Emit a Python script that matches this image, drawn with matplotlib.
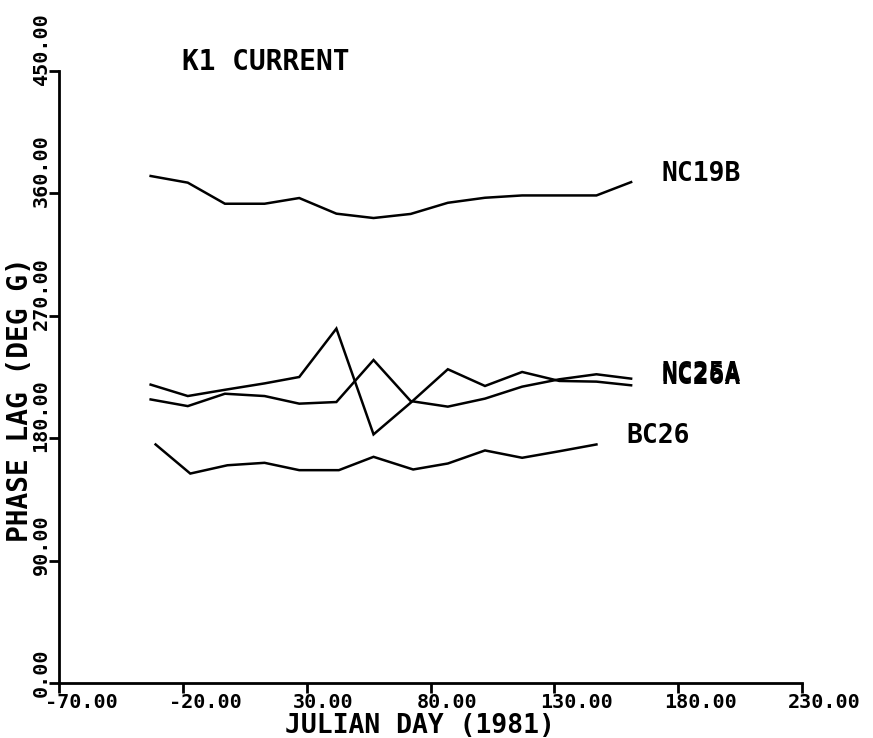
import matplotlib
matplotlib.use("Agg")
import matplotlib.pyplot as plt
import matplotlib.transforms as mtransforms

# Julian day of each observation (1981)
days = [-33, -18, -3, 13, 27, 42, 57, 72, 87, 102, 117, 132, 147, 161]

# K1 current phase lag (deg G) per mooring
nc19b = [372.8, 367.9, 352.4, 352.4, 356.6, 345.1, 341.9, 344.9, 353.1, 356.8, 358.5, 358.5, 358.5, 368.3]
nc25a = [208.5, 203.6, 212.7, 211.0, 205.4, 206.6, 237.5, 207.3, 203.2, 209.1, 217.9, 223.3, 227.0, 223.8]
nc26a = [219.4, 211.0, 215.6, 220.3, 225.0, 260.6, 182.8, 206.1, 230.7, 218.4, 228.7, 222.1, 221.6, 218.9]
bc26_days = [-31, -17, -2, 13, 27, 43, 57, 73, 87, 102, 117, 132, 147]
bc26 = [175.4, 154.0, 160.1, 161.9, 156.5, 156.5, 166.3, 157.0, 161.4, 171.0, 165.6, 170.4, 175.4]

series = [("NC19B", days, nc19b), ("NC25A", days, nc25a),
          ("NC26A", days, nc26a), ("BC26", bc26_days, bc26)]

xticks = [-70, -20, 30, 80, 130, 180, 230]
yticks = [0, 90, 180, 270, 360, 450]

font = "DejaVu Sans Mono"
wt = "bold"

fig = plt.figure(figsize=(8.73, 7.38), dpi=100)
ax = fig.add_axes([59 / 873, 55 / 738, 743 / 873, 612 / 738])

# label lift above the line end (inches); NC25A/NC26A labels print on top of each other
lift = {"NC19B": 0.08, "NC25A": 0.045, "NC26A": 0.08, "BC26": 0.08}
for name, xs, ys in series:
    ax.plot(xs, ys, color="black", lw=1.8, solid_joinstyle="miter")
    off = mtransforms.ScaledTranslation(0.30, lift[name], fig.dpi_scale_trans)
    ax.text(xs[-1], ys[-1], name, transform=ax.transData + off,
            ha="left", va="center", fontsize=19, family=font, weight=wt)

ax.set_xlim(-70, 230)
ax.set_ylim(0, 450)
ax.spines["top"].set_visible(False)
ax.spines["right"].set_visible(False)
ax.spines["left"].set_linewidth(2)
ax.spines["bottom"].set_linewidth(2)

ax.set_xticks(xticks)
ax.set_yticks(yticks)
ax.tick_params(direction="out", length=7, width=2, labelbottom=False, labelleft=False)

# tick labels drawn by hand: they start a little before the tick
xtr = mtransforms.blended_transform_factory(ax.transData, ax.transAxes)
ytr = mtransforms.blended_transform_factory(ax.transAxes, ax.transData)
xoff = mtransforms.ScaledTranslation(-0.14, -0.105, fig.dpi_scale_trans)
yoff = mtransforms.ScaledTranslation(-0.18, -0.14, fig.dpi_scale_trans)
for v in xticks:
    ax.text(v, 0, "%.2f" % v, transform=xtr + xoff, ha="left", va="top",
            fontsize=14.5, family=font, weight=wt)
for v in yticks:
    ax.text(0, v, "%.2f" % v, transform=ytr + yoff, ha="center", va="bottom",
            rotation=90, fontsize=14.5, family=font, weight=wt)

fig.text(420 / 873, 1 - 726 / 738, "JULIAN DAY (1981)", ha="center", va="center",
         fontsize=19, family=font, weight=wt)
fig.text(20 / 873, 1 - 400 / 738, "PHASE LAG (DEG G)", ha="center", va="center",
         rotation=90, fontsize=20, family=font, weight=wt)
fig.text(182 / 873, 1 - 62 / 738, "K1 CURRENT", ha="left", va="center",
         fontsize=20, family=font, weight=wt)

fig.savefig("out.png", dpi=100)
